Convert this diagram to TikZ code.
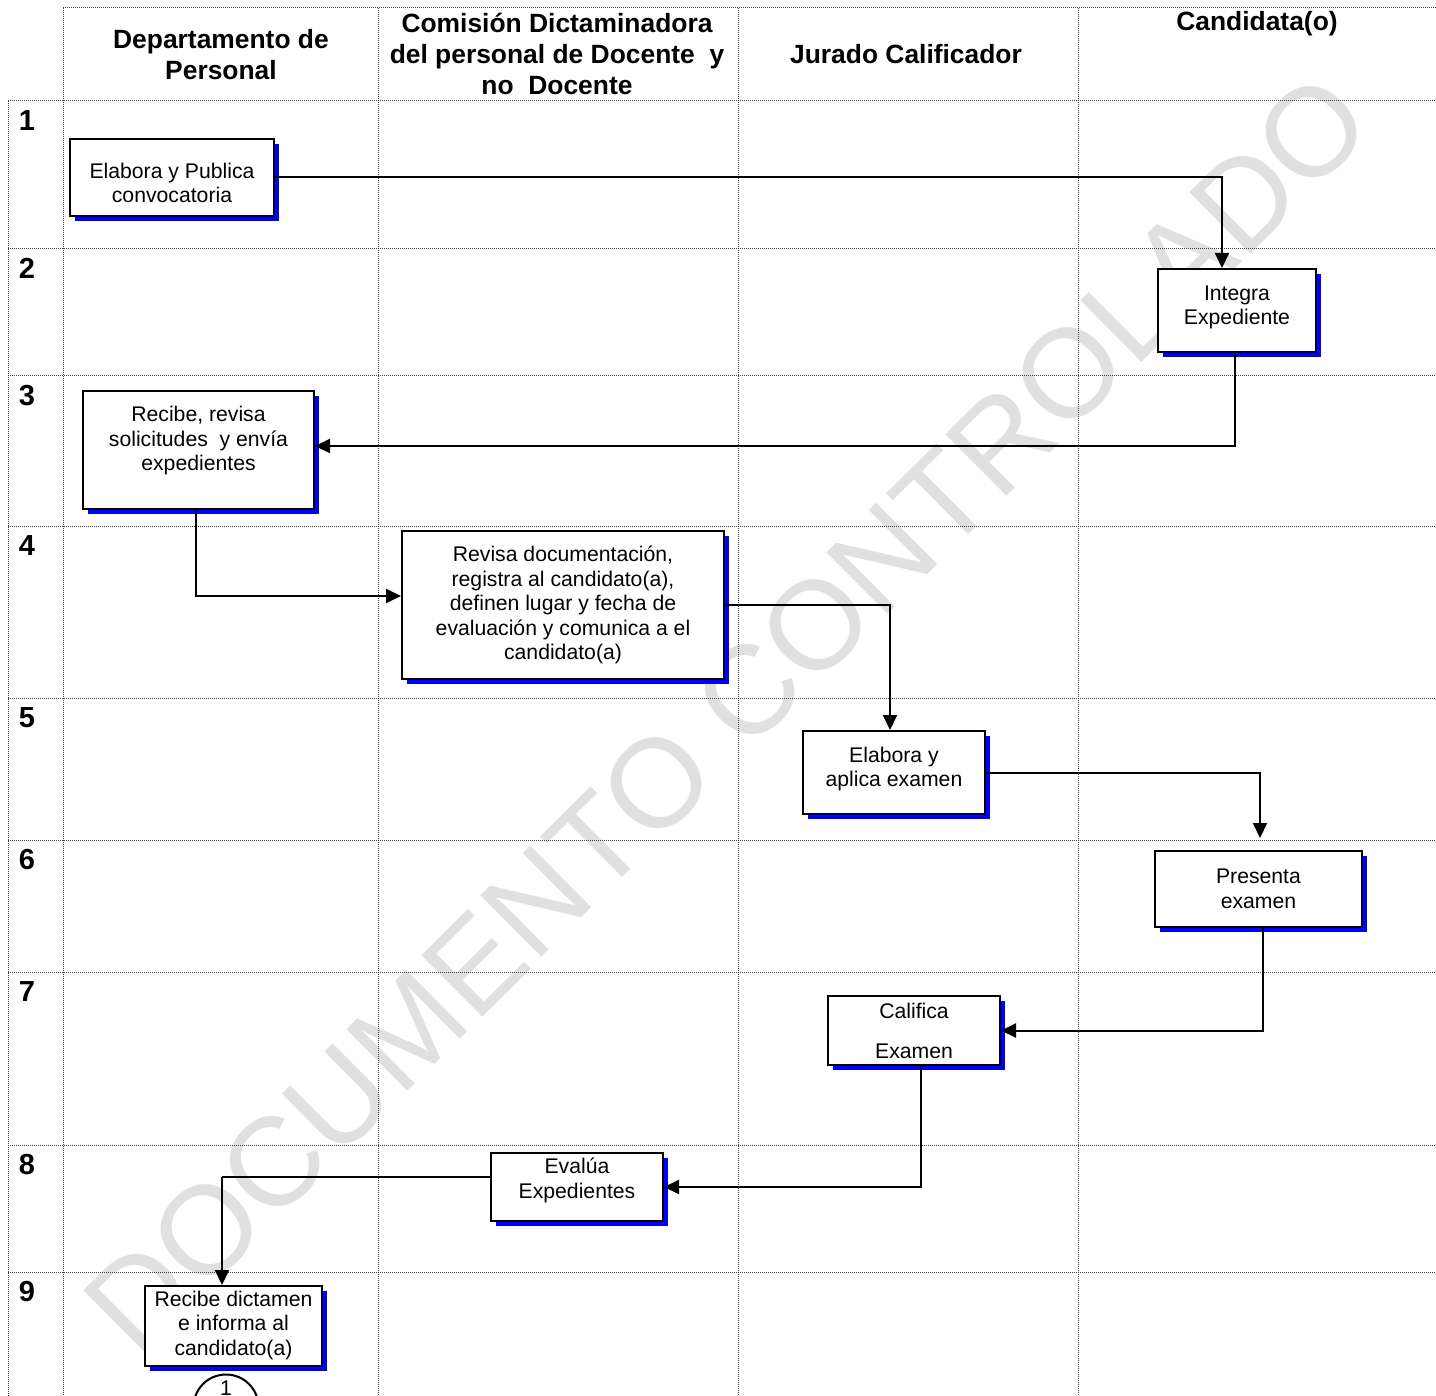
\documentclass[tikz,border=0pt]{standalone}
\usepackage{fontspec}
\setmainfont{Liberation Sans}
\usetikzlibrary{arrows.meta,shadows}

\begin{document}
\begin{tikzpicture}[x=0.5pt,y=-0.5pt,
  rejilla/.style={black!75, line width=0.5pt, dash pattern=on 0.5pt off 0.5pt},
  encabezado/.style={font=\fontsize{13.2}{15.5}\selectfont\bfseries, align=center},
  paso/.style={font=\fontsize{14.5}{16}\selectfont\bfseries, anchor=north, inner sep=0pt},
  caja/.style={draw=black, fill=white, line width=1pt, inner sep=0pt,
    drop shadow={shadow xshift=2.5pt, shadow yshift=-2.5pt, fill=blue, opacity=1}},
  texto/.style={align=center, inner sep=0pt, font=\fontsize{10.6}{12.25}\selectfont},
  linea/.style={line width=1pt},
  flecha/.style={line width=1pt, -{Triangle[length=7.5pt,width=7pt]}}]

\useasboundingbox (0,0) rectangle (1436,1396);
\clip (0,0) rectangle (1436,1396);

\node[rotate=44.8, text=black!12, font=\fontsize{63}{63}\selectfont] (marca) at (727,713) {DOCUMENTO CONTROLADO};

\draw[rejilla] (63,8) -- (1436,8);
\foreach \y in {101,249,376,526,698,840,972,1145,1272}
  \draw[rejilla] (8,\y) -- (1436,\y);
\draw[rejilla] (8,101) -- (8,1396);
\foreach \x in {63,378,738,1078}
  \draw[rejilla] (\x,8) -- (\x,1396);

\node[encabezado] (h1) at (221,55) {Departamento de\\Personal};
\node[encabezado] (h2) at (557,54) {Comisión Dictaminadora\\del personal de Docente~ y\\no~ Docente};
\node[encabezado] (h3) at (906,54) {Jurado Calificador};
\node[encabezado] (h4) at (1257,24) {Candidata(o)};

\foreach \n/\y in {1/101,2/249,3/376,4/526,5/698,6/840,7/972,8/1145,9/1272}
  \node[paso] (p\n) at (27,\y+9) {\n};

\node[caja, minimum width=102pt, minimum height=38.5pt] (b1) at (172,177.5) {};
\node[texto] (t1) at ([yshift=-2.75pt]b1.center) {Elabora y Publica\\convocatoria};
\node[caja, minimum width=79pt, minimum height=41.5pt] (b2) at (1237,310.5) {};
\node[texto] (t2) at ([yshift=1.5pt]b2.center) {Integra\\Expediente};
\node[caja, minimum width=115.5pt, minimum height=59pt] (b3) at (198.5,450) {};
\node[texto] (t3) at ([yshift=4.5pt]b3.center) {Recibe, revisa\\solicitudes~ y envía\\expedientes};
\node[caja, minimum width=161pt, minimum height=74pt] (b4) at (563,605) {};
\node[texto] (t4) at (b4.center) {Revisa documentación,\\registra al candidato(a),\\definen lugar y fecha de\\evaluación y comunica a el\\candidato(a)};
\node[caja, minimum width=91pt, minimum height=41.5pt] (b5) at (894,772.5) {};
\node[texto] (t5) at ([yshift=1.75pt]b5.center) {Elabora y\\aplica examen};
\node[caja, minimum width=103.5pt, minimum height=38pt] (b6) at (1258.5,889) {};
\node[texto] (t6) at (b6.center) {Presenta\\examen};
\node[caja, minimum width=86pt, minimum height=34.5pt] (b7) at (914,1030.5) {};
\node[texto] (t7) at (b7.center) {Califica\\[7.75pt]Examen};
\node[caja, minimum width=86pt, minimum height=34pt] (b8) at (577,1187) {};
\node[texto] (t8) at ([yshift=3.25pt]b8.center) {Evalúa\\Expedientes};
\node[caja, minimum width=88.5pt, minimum height=40pt] (b9) at (233.5,1326) {};
\node[texto] (t9) at ([yshift=0.25pt]b9.center) {Recibe dictamen\\e informa al\\candidato(a)};

\node[circle, draw, line width=1pt, minimum size=32.5pt, inner sep=0pt] (con) at (226,1407) {};
\node[texto] (con1) at (226,1388) {1};

\draw[flecha] (b1.east) -| ([xshift=-7.5pt]b2.north);
\draw[flecha] ([xshift=-1pt]b2.south) |- ([yshift=2pt]b3.east);
\draw[flecha] ([xshift=-1.25pt]b3.south) |- ([yshift=4.5pt]b4.west);
\draw[flecha] (b4.east) -| ([xshift=-2pt]b5.north);
\draw[flecha, shorten >=6pt] (b5.east) -| ([xshift=0.75pt]b6.north);
\draw[flecha] ([xshift=2.25pt]b6.south) |- (b7.east);
\draw[flecha] ([xshift=3.5pt]b7.south) |- (b8.east);
\coordinate (codo) at (222,1177);
\draw[linea] ([yshift=5pt]b8.west) -- (codo);
\draw[flecha] (codo) -- (codo |- b9.north);

\end{tikzpicture}
\end{document}
